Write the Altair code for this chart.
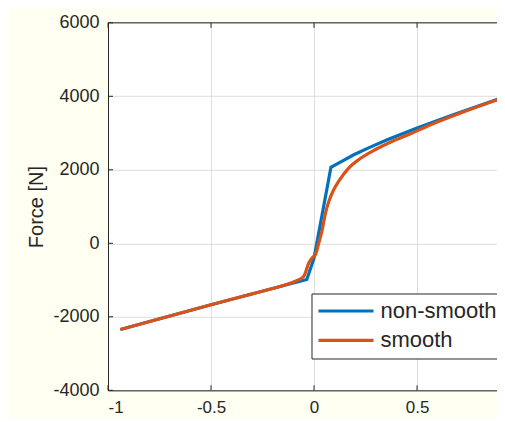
import altair as alt
import pandas as pd

# ---- data ----
x_ticks = [-1, -0.5, 0, 0.5]
y_ticks = [-4000, -2000, 0, 2000, 4000, 6000]
series_names = ["non-smooth", "smooth"]
series_colors = ["#0072BD", "#D95319"]

ns_x = [-0.94, -0.5, -0.035, 0.0, 0.082, 0.13, 0.193, 0.27, 0.355, 0.5, 0.679, 0.93]
ns_y = [-2346, -1670, -985, -400, 2070, 2215, 2410, 2610, 2815, 3140, 3505, 3995]

sm_x = [-0.94, -0.5, -0.3, -0.15, -0.0898, -0.0495, -0.025, -0.0087, 0.0073, 0.0233,
        0.04, 0.0558, 0.072, 0.096, 0.12, 0.169, 0.2175, 0.2985, 0.38, 0.46, 0.541,
        0.724, 0.93]
sm_y = [-2346, -1670, -1375, -1150, -1030, -895, -531, -395, -305, 13,
        376, 830, 1146, 1464, 1690, 2054, 2280, 2552, 2778, 2960, 3165,
        3570, 3985]

# visible window of the (cropped) reference plot
X_DOMAIN = [-1, 0.888]
Y_DOMAIN = [-4000, 6000]
W, H = 389, 367.5
AX = "#262626"
FONT = "Liberation Sans"

df_ns = pd.DataFrame({"disp": ns_x, "force": ns_y, "series": series_names[0]})
df_sm = pd.DataFrame({"disp": sm_x, "force": sm_y, "series": series_names[1]})
df_yt = pd.DataFrame({"force": y_ticks})
df_xt = pd.DataFrame({"disp": x_ticks})
df_one = pd.DataFrame({"k": [0]})

xs = alt.Scale(domain=X_DOMAIN, nice=False, zero=False)
ys = alt.Scale(domain=Y_DOMAIN, nice=False, zero=False)

color = alt.Color(
    "series:N",
    scale=alt.Scale(domain=series_names, range=series_colors),
    legend=alt.Legend(
        title=None, orient="none", legendX=203.5, legendY=270.7,
        fillColor="white", strokeColor=AX, padding=5,
        symbolType="stroke", symbolSize=3025, symbolStrokeWidth=3.2,
        labelFontSize=22, labelFont=FONT, labelColor=AX,
        clipHeight=25, rowPadding=4.3, labelOffset=5,
    ),
)

x_enc = alt.X("disp:Q", scale=xs, title=None,
              axis=alt.Axis(values=x_ticks, labelExpr="'' + datum.value"))
y_enc = alt.Y("force:Q", scale=ys, title="Force [N]",
              axis=alt.Axis(values=y_ticks, labelExpr="'' + datum.value"))

line_ns = alt.Chart(df_ns).mark_line(strokeWidth=3.2, clip=True).encode(
    x=x_enc, y=y_enc, color=color)
line_sm = alt.Chart(df_sm).mark_line(strokeWidth=3.2, interpolate="monotone", clip=True).encode(
    x=x_enc, y=y_enc, color=color)

tick_y = alt.Chart(df_yt).mark_rule(color=AX, strokeWidth=1).encode(
    y=alt.Y("force:Q", scale=ys, title="Force [N]"),
    x=alt.value(0), x2=alt.value(5))
tick_xb = alt.Chart(df_xt).mark_rule(color=AX, strokeWidth=1).encode(
    x=alt.X("disp:Q", scale=xs, title=None),
    y=alt.value(H), y2=alt.value(H - 5))
tick_xt = alt.Chart(df_xt).mark_rule(color=AX, strokeWidth=1).encode(
    x=alt.X("disp:Q", scale=xs, title=None),
    y=alt.value(0), y2=alt.value(5))
top_border = alt.Chart(df_one).mark_rule(color=AX, strokeWidth=1).encode(
    x=alt.value(0), x2=alt.value(W), y=alt.value(0))

chart = alt.layer(line_ns, line_sm, tick_y, tick_xb, tick_xt, top_border).properties(
    width=W, height=H,
    background="#FFFFF2",
    autosize=alt.AutoSizeParams(type="none"),
    padding={"left": 100, "top": 14.8, "right": 0, "bottom": 28},
).configure_view(
    fill="white", strokeWidth=0
).configure_axis(
    grid=True, gridColor="#DEDEDE", gridWidth=1,
    domainColor=AX, domainWidth=1, tickSize=0,
    labelFont=FONT, labelFontSize=18, labelColor=AX,
    titleFont=FONT, titleFontSize=20, titleColor=AX, titleFontWeight="normal",
).configure_axisX(
    labelPadding=9, labelFontSize=17,
).configure_axisY(
    labelPadding=9, titlePadding=6,
)

chart.save("out.html", embed_options={"renderer": "svg", "actions": False})
